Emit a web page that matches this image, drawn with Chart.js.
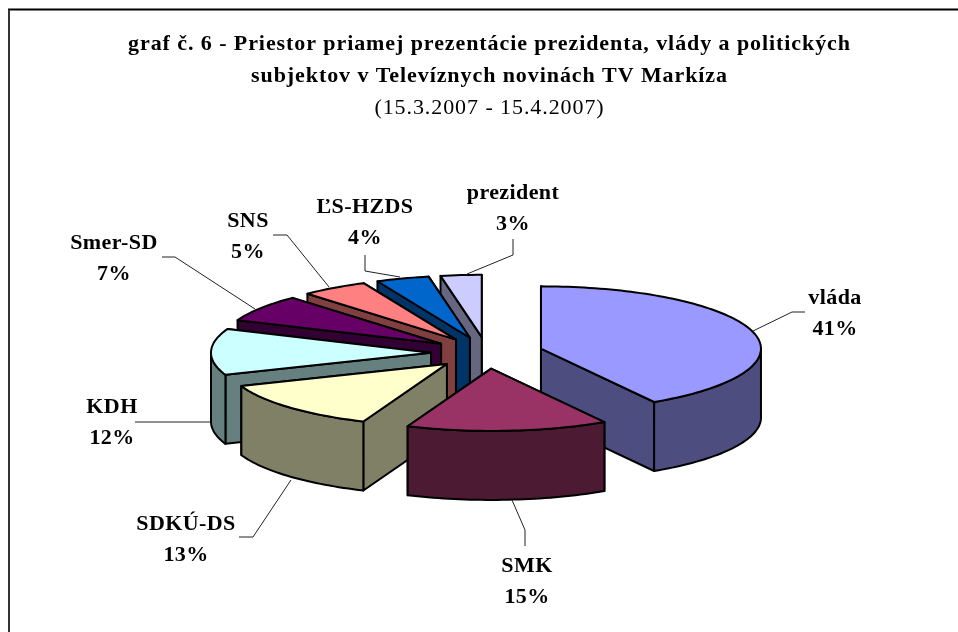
<!DOCTYPE html>
<html><head><meta charset="utf-8">
<style>html,body{margin:0;padding:0;background:#fff}#w{width:958px;height:632px;position:relative}</style>
<script src="https://cdn.jsdelivr.net/npm/chart.js@4"></script>
</head><body><div id="w"><canvas id="c" width="958" height="632"></canvas></div>
<script>
const categories = ['vláda','SMK','SDKÚ-DS','KDH','Smer-SD','SNS','ĽS-HZDS','prezident'];
const shares = [41.4,14.8,13,12,7,4.9,3.9,3];
const topColors = ['#9999FF','#993366','#FFFFCC','#CCFFFF','#660066','#FF8080','#0066CC','#CCCCFF'];
const sideColors = ['#4D4D80','#4D1A33','#808066','#668080','#330033','#804040','#003366','#666680'];
const titleLines = ['graf č. 6 - Priestor priamej prezentácie prezidenta, vlády a politických','subjektov v Televíznych novinách TV Markíza'];
const subtitleText = '(15.3.2007 - 15.4.2007)';
// layout of the picture (not data)
const FLAT = 0.283, DEPTH = 69, RADIUS = 220, EXPLODE = 56, LW = 2, PIE_SHIFT = -2.5, FRAME_TOP = 9.5;
const labelAnchor = [[835,310],[527,578],[186,536],[112,419],[114,255],[248,233],[365,219],[513,205]];
const leaders = [
 [[753,331],[792,312],[805,312]],
 [[512,500],[525,530],[525,546]],
 [[291,480],[253,537],[239,537]],
 [[210,422],[135,422]],
 [[255,309],[175,257],[162,257]],
 [[329,287],[287,235],[273,235]],
 [[400,277],[365,271],[365,255]],
 [[467,274],[513,255],[513,239]]
];
function sy(cy,y){return cy+(y-cy)*FLAT;}
function arcGeom(a){return {x:a.x,y:a.y,r:a.outerRadius,s:a.startAngle,e:a.endAngle};}
const pie3d = {
  id:'pie3d',
  afterDatasetUpdate(chart){
    chart.getDatasetMeta(0).data.forEach(a=>{
      const m=(a.startAngle+a.endAngle)/2;
      a.x+=Math.cos(m)*EXPLODE+PIE_SHIFT; a.y+=Math.sin(m)*EXPLODE;
    });
  },
  beforeDraw(chart){
    const c=chart.ctx;
    c.letterSpacing='0.92px';
    c.save();c.strokeStyle='#000';c.lineWidth=2;
    c.beginPath();c.moveTo(958,FRAME_TOP);c.lineTo(8,FRAME_TOP);c.stroke();
    c.strokeStyle='#333';c.beginPath();c.moveTo(9,FRAME_TOP);c.lineTo(9,632);c.stroke();
    c.restore();
  },
  beforeDatasetsDraw(chart){
    const ctx=chart.ctx, arcs=chart.getDatasetMeta(0).data, area=chart.chartArea;
    const cy=(area.top+area.bottom)/2, cx=(area.left+area.right)/2;
    ctx.save();
    ctx.lineWidth=LW;ctx.strokeStyle='#000';ctx.lineJoin='round';
    const order=arcs.map((a,i)=>({g:arcGeom(a),i})).sort((p,q)=>p.g.y-q.g.y);
    for(const {g,i} of order){
      ctx.fillStyle=sideColors[i];
      const ax=g.x, ay=sy(cy,g.y);
      const pts=t=>[g.x+g.r*Math.cos(t), sy(cy,g.y+g.r*Math.sin(t))];
      const faces=[g.s,g.e].map(t=>({t,p:pts(t)})).sort((m,n)=>(m.p[1])-(n.p[1]));
      for(const f of faces){
        ctx.beginPath();ctx.moveTo(ax,ay);ctx.lineTo(f.p[0],f.p[1]);
        ctx.lineTo(f.p[0],f.p[1]+DEPTH);ctx.lineTo(ax,ay+DEPTH);ctx.closePath();ctx.fill();ctx.stroke();
      }
      const TAU=Math.PI*2;
      for(let k=-1;k<=1;k++){
        const lo=Math.max(g.s,k*TAU), hi=Math.min(g.e,k*TAU+Math.PI);
        if(hi<=lo)continue;
        ctx.beginPath();
        const n=Math.max(4,Math.ceil((hi-lo)*40));
        for(let j=0;j<=n;j++){const p=pts(lo+(hi-lo)*j/n);j?ctx.lineTo(p[0],p[1]):ctx.moveTo(p[0],p[1]);}
        for(let j=n;j>=0;j--){const p=pts(lo+(hi-lo)*j/n);ctx.lineTo(p[0],p[1]+DEPTH);}
        ctx.closePath();ctx.fill();ctx.stroke();
      }
    }
    ctx.translate(cx,cy);ctx.scale(1,FLAT);ctx.translate(-cx,-cy);
  },
  afterDatasetsDraw(chart){
    const ctx=chart.ctx, arcs=chart.getDatasetMeta(0).data, area=chart.chartArea;
    ctx.restore();
    const cy=(area.top+area.bottom)/2;
    ctx.save();ctx.lineWidth=LW;ctx.strokeStyle='#000';ctx.lineJoin='round';
    arcs.forEach(a=>{
      const g=arcGeom(a);
      ctx.beginPath();ctx.moveTo(g.x,sy(cy,g.y));
      const n=Math.ceil((g.e-g.s)*40);
      for(let j=0;j<=n;j++){const t=g.s+(g.e-g.s)*j/n;ctx.lineTo(g.x+g.r*Math.cos(t),sy(cy,g.y+g.r*Math.sin(t)));}
      ctx.closePath();ctx.stroke();
    });
    ctx.lineWidth=1;ctx.strokeStyle='#222';
    leaders.forEach(l=>{ctx.beginPath();l.forEach((p,j)=>j?ctx.lineTo(p[0],p[1]):ctx.moveTo(p[0],p[1]));ctx.stroke();});
    ctx.letterSpacing='0.4px';
    ctx.fillStyle='#000';ctx.font='bold 22px "Liberation Serif"';ctx.textAlign='center';ctx.textBaseline='alphabetic';
    const total=shares.reduce((s,v)=>s+v,0);
    categories.forEach((n,i)=>{
      const [x,y]=labelAnchor[i];
      ctx.fillText(n,x,y-6);
      ctx.fillText(Math.round(shares[i]/total*100)+'%',x,y+25);
    });
    ctx.restore();
  }
};
new Chart(document.getElementById('c'),{
  type:'pie',
  data:{labels:categories,datasets:[{data:shares,backgroundColor:topColors,borderWidth:0}]},
  options:{
    responsive:false,animation:false,
    radius:RADIUS,
    layout:{padding:{left:21,right:0,top:28,bottom:50}},
    plugins:{
      legend:{display:false},tooltip:{enabled:false},
      title:{display:true,text:titleLines,color:'#000',font:{family:'"Liberation Serif"',size:22,weight:'bold',lineHeight:1.45},padding:0},
      subtitle:{display:true,text:subtitleText,color:'#000',font:{family:'"Liberation Serif"',size:22,weight:'normal',lineHeight:1.45},padding:0}
    }
  },
  plugins:[pie3d]
});
</script></body></html>
